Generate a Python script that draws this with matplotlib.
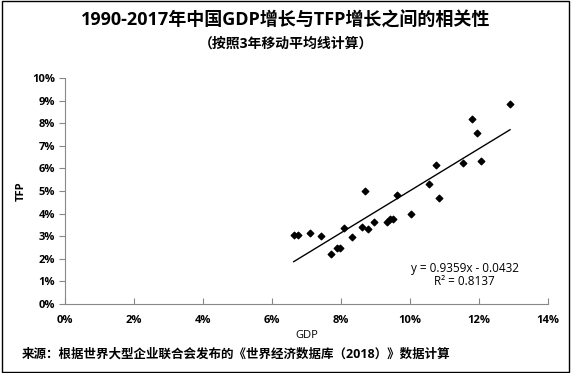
import numpy as np
import matplotlib
matplotlib.use('Agg')
import matplotlib.pyplot as plt
from matplotlib.patches import Rectangle
from matplotlib.ticker import PercentFormatter

plt.rcParams['font.family'] = ['Open Sans', 'Noto Sans CJK SC', 'DejaVu Sans']

# 数据：3年移动平均（GDP增长率, TFP增长率）
gdp = [0.0663, 0.0676, 0.0711, 0.0743, 0.0772, 0.0789, 0.0796, 0.0810, 0.0832,
       0.0861, 0.0871, 0.0877, 0.0897, 0.0932, 0.0943, 0.0950, 0.0961, 0.1002,
       0.1054, 0.1074, 0.1083, 0.1155, 0.1180, 0.1194, 0.1206, 0.1290]
tfp = [0.0307, 0.0304, 0.0316, 0.0303, 0.0220, 0.0250, 0.0250, 0.0338, 0.0298,
       0.0342, 0.0501, 0.0333, 0.0364, 0.0364, 0.0378, 0.0378, 0.0483, 0.0400,
       0.0532, 0.0617, 0.0471, 0.0626, 0.0819, 0.0756, 0.0634, 0.0884]

x_ticks = [0, 0.02, 0.04, 0.06, 0.08, 0.10, 0.12, 0.14]
y_ticks = [i / 100 for i in range(11)]

fig = plt.figure(figsize=(5.71, 3.73), dpi=100)
ax = fig.add_axes([65 / 571, 1 - 304 / 373, 483 / 571, 226 / 373])

ax.scatter(gdp, tfp, marker='D', s=11, color='black', zorder=3)

# 线性趋势线
k, b = np.polyfit(gdp, tfp, 1)
xs = np.array([min(gdp), max(gdp)])
ax.plot(xs, k * xs + b, color='black', lw=1)

ax.text(0.1158, 0.0155, 'y = 0.9359x - 0.0432', ha='center', va='center', fontsize=8.5)
ax.text(0.1158, 0.0098, 'R² = 0.8137', ha='center', va='center', fontsize=8.5)

ax.set_xlim(0, 0.14)
ax.set_ylim(0, 0.10)
ax.set_xticks(x_ticks)
ax.set_yticks(y_ticks)
ax.xaxis.set_major_formatter(PercentFormatter(1.0, decimals=0))
ax.yaxis.set_major_formatter(PercentFormatter(1.0, decimals=0))
ax.tick_params(axis='x', direction='in', length=4, color='#888888', labelsize=8, pad=8)
ax.tick_params(axis='y', direction='out', length=4, color='#888888', labelsize=8, pad=3)
for lab in ax.get_xticklabels() + ax.get_yticklabels():
    lab.set_fontweight('bold')
for s in ['top', 'right']:
    ax.spines[s].set_visible(False)
for s in ['left', 'bottom']:
    ax.spines[s].set_color('#888888')

ax.set_xlabel('GDP', fontsize=8, labelpad=3)
ax.set_ylabel('TFP', fontsize=8, fontweight='bold', labelpad=4)

fig.text(0.5, 1 - 20 / 373, '1990-2017年中国GDP增长与TFP增长之间的相关性',
         ha='center', va='center', fontsize=13, fontweight='bold')
fig.text(0.5, 1 - 44 / 373, '（按照3年移动平均线计算）',
         ha='center', va='center', fontsize=10, fontweight='bold')
fig.text(22 / 571, 1 - 354 / 373, '来源：根据世界大型企业联合会发布的《世界经济数据库（2018）》数据计算',
         ha='left', va='center', fontsize=9, fontweight='bold')

fig.patches.append(Rectangle((0.004, 0.004), 0.992, 0.992, transform=fig.transFigure,
                             fill=False, edgecolor='black', lw=1))

fig.savefig('out.png', dpi=100)
